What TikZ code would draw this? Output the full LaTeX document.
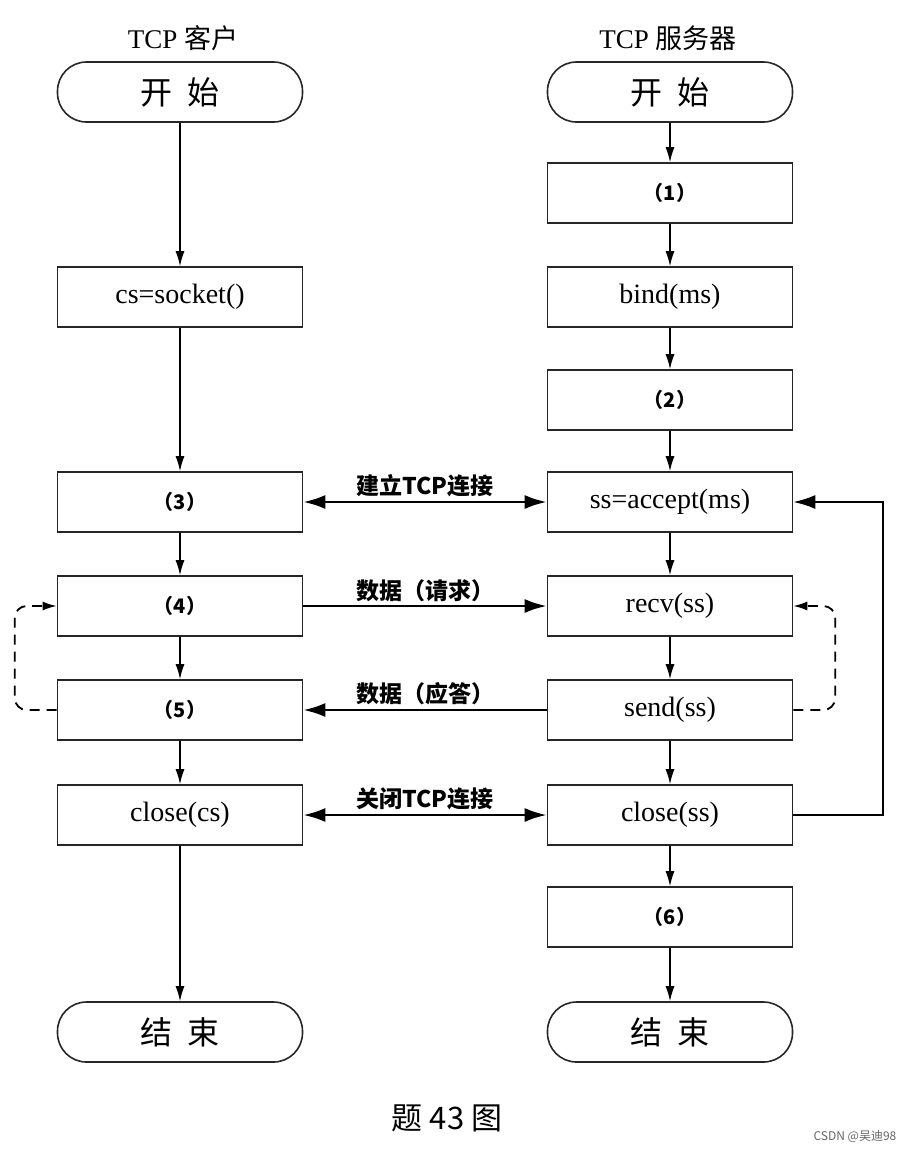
\documentclass[tikz,border=0pt]{standalone}
\usepackage{fontspec}
\setmainfont{Liberation Serif}
\newfontfamily\cjk{Noto Sans CJK SC}
\usetikzlibrary{arrows.meta,positioning}

\tikzset{
  proc/.style={rectangle,draw=black!85,line width=1.6pt,minimum width=245pt,minimum height=60pt,inner sep=0pt,font=\fontsize{28}{32}\selectfont},
  term/.style={proc,rounded corners=29pt,font=\cjk\fontsize{32}{36}\selectfont},
  blank/.style={proc,font=\cjk\bfseries\fontsize{20}{24}\selectfont},
  flow/.style={-{Latex[length=15pt,width=9pt]},line width=1.4pt},
  msg/.style={{Latex[length=22pt,width=14pt]}-{Latex[length=22pt,width=14pt]},line width=2.6pt},
  msgone/.style={-{Latex[length=22pt,width=14pt]},line width=2.6pt},
  lbl/.style={font=\cjk\bfseries\fontsize{23}{26}\selectfont},
  loopback/.style={dash pattern=on 10pt off 7pt,rounded corners=12pt,line width=1.8pt,-{Latex[length=14pt,width=9pt]}}
}

\begin{document}
\begin{tikzpicture}[x=1pt,y=-1pt]
  \useasboundingbox (0,0) rectangle (918,1152);
  % column titles
  \node[font=\fontsize{27}{30}\selectfont] (ctitle) at (183,38) {TCP {\cjk 客户}};
  \node[font=\fontsize{27}{30}\selectfont] (stitle) at (668,38) {TCP {\cjk 服务器}};
  % client column
  \node[term] (cstart) at (180,92) {开\hspace{0.45em}始};
  \node[proc] (csock) at (180,297) {cs=socket()};
  \node[blank] (c3) at (180,502) {（3）};
  \node[blank] (c4) at (180,606) {（4）};
  \node[blank] (c5) at (180,710) {（5）};
  \node[proc] (cclose) at (180,815) {close(cs)};
  \node[term] (cstop) at (180,1032) {结\hspace{0.45em}束};
  % server column
  \node[term] (sstart) at (670,92) {开\hspace{0.45em}始};
  \node[blank] (s1) at (670,193) {（1）};
  \node[proc] (sbind) at (670,297) {bind(ms)};
  \node[blank] (s2) at (670,400) {（2）};
  \node[proc] (saccept) at (670,502) {ss=accept(ms)};
  \node[proc] (srecv) at (670,606) {recv(ss)};
  \node[proc] (ssend) at (670,710) {send(ss)};
  \node[proc] (sclose) at (670,815) {close(ss)};
  \node[blank] (s6) at (670,917) {（6）};
  \node[term] (sstop) at (670,1032) {结\hspace{0.45em}束};
  % vertical flow
  \foreach \a/\b in {cstart/csock,csock/c3,c3/c4,c4/c5,c5/cclose,cclose/cstop,
                     sstart/s1,s1/sbind,sbind/s2,s2/saccept,saccept/srecv,srecv/ssend,
                     ssend/sclose,sclose/s6,s6/sstop}
    \draw[flow] (\a) -- (\b);
  % messages between client and server
  \draw[msg] (c3) -- node[lbl,above] (lconn) {建立TCP连接} (saccept);
  \draw[msgone] (c4) -- node[lbl,above] (lreq) {数据（请求）} (srecv);
  \draw[msgone] (ssend) -- node[lbl,above] (lans) {数据（应答）} (c5);
  \draw[msg] (cclose) -- node[lbl,above] (lclose) {关闭TCP连接} (sclose);
  % loops
  \draw[msgone,line width=2pt] (sclose.east) -- ++(90,0) |- (saccept.east);
  \draw[loopback] (c5.west) -- ++(-42,0) |- (c4.west);
  \draw[loopback] (ssend.east) -- ++(42,0) |- (srecv.east);
  % caption
  \node[font=\cjk\fontsize{31}{34}\selectfont] (cap) at (447,1118) {题 43 图};
  \node[font=\cjk\fontsize{12}{14}\selectfont,text=black!60] (mark) at (855,1137) {CSDN @吴迪98};
\end{tikzpicture}
\end{document}
